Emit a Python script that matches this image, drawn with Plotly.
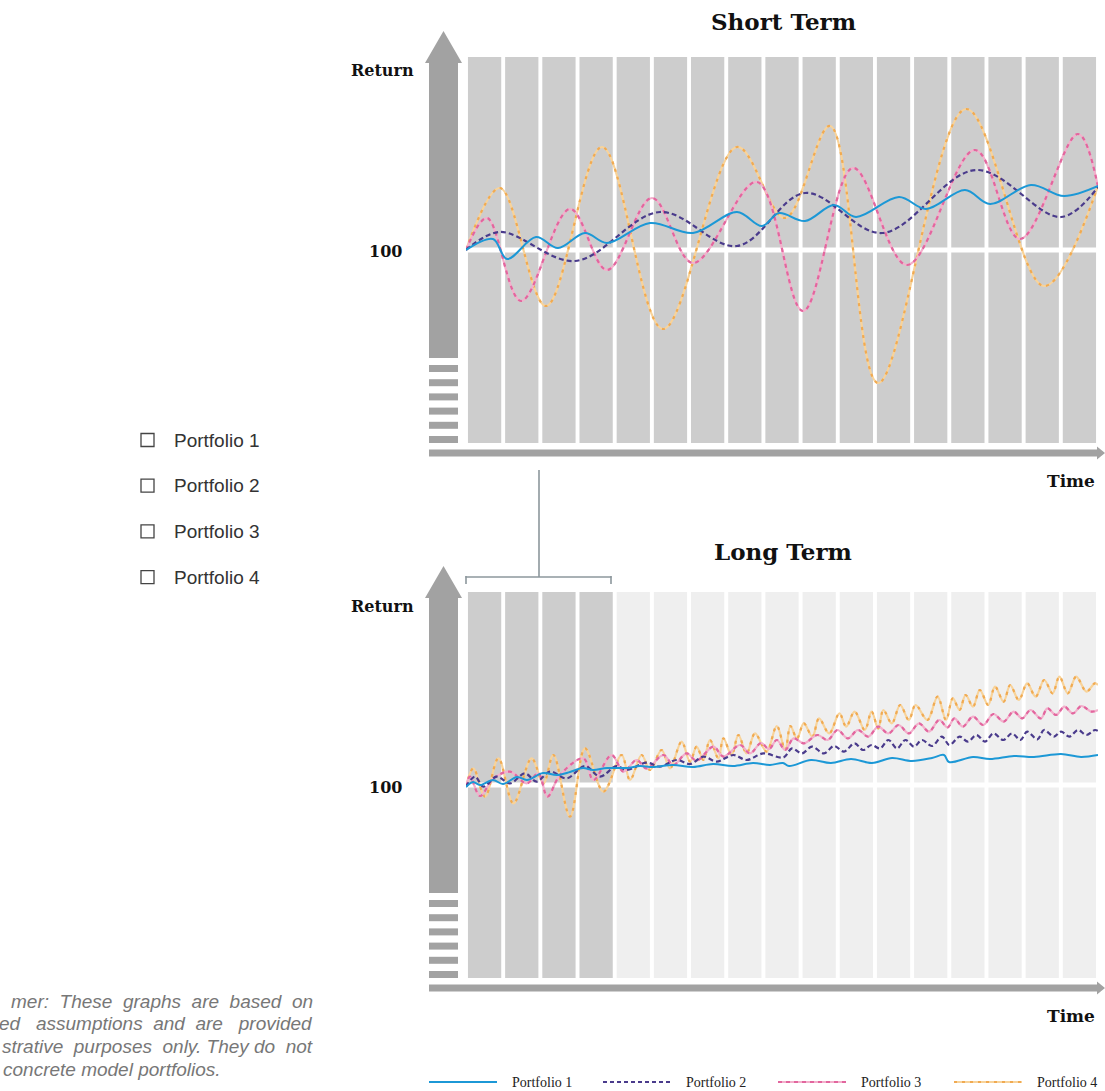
import plotly.graph_objects as go

W, H = 1105, 1091

# ---------------- data ----------------
TIME_MAX = 316
N_COLUMNS = 17
BASE_LEVEL = 100
Y_MIN, Y_MAX = 3.5, 196.5
DARK_COLUMNS_LONG = 4

series_names = ["Portfolio 1", "Portfolio 2", "Portfolio 3", "Portfolio 4"]
checkbox_labels = ["Portfolio 1", "Portfolio 2", "Portfolio 3", "Portfolio 4"]
panel_titles = ["Short Term", "Long Term"]
y_label = "Return"
y_tick_label = "100"
x_label = "Time"
disclaimer_lines = [
    "mer: These graphs are based on",
    "ed assumptions and are provided",
    "strative purposes only. They do not",
    "concrete model portfolios.",
]

# Short term series
short_t1 = [0, 13.5, 20.5, 35, 46, 59.5, 70.5, 92, 113.5, 135.5, 148, 156.5, 169.5, 184, 195, 216.5, 230, 249.5, 262, 282.5, 299, 316]
short_p1 = [100, 105.5, 95.5, 106.5, 101, 108.5, 103.5, 113.5, 108.5, 119, 112, 118.5, 114.5, 122.5, 116.5, 126.5, 120.5, 130, 123, 132.5, 127, 132]

short_t2 = [0, 17, 54.5, 97, 135.5, 169.5, 208, 255, 297.5, 316]
short_p2 = [100, 109, 94.5, 119, 102, 128.5, 108.5, 140, 116.5, 131.5]

short_t3 = [0, 10.5, 27.5, 52, 70.5, 93, 113.5, 145.5, 168.5, 193.5, 220.5, 254.5, 277, 306, 316]
short_p3 = [100, 116, 74.5, 120.5, 90, 126, 93.5, 134, 69.5, 141, 92.5, 150, 105.5, 158, 131.5]

short_t4 = [0, 17, 40, 68, 98.5, 135.5, 159.5, 182, 206, 250, 289, 316]
short_p4 = [100, 131, 72, 151.5, 60.5, 151.5, 116, 162, 33.5, 170.5, 82, 132]

# Long term series
long_t1 = [0, 3.5, 7, 13.5, 18.5, 25.5, 30.5, 38.5, 45.5, 52, 58.5, 63.5, 70.5, 80.5, 87, 93.5, 103.5, 113.5, 123.5, 133.5,
           143.5, 152, 158.5, 161.5, 172.5, 182.5, 192.5, 203, 213, 223, 233, 239, 241.5, 253.5, 262, 274, 284, 297.5, 307.5, 316]
long_p1 = [99, 101.5, 100, 102.5, 100.5, 104, 102.5, 106, 105, 106.5, 108.5, 107.5, 108.5, 108.5, 109.5, 109, 110, 109, 110.5, 109.5,
           111, 110, 111, 109.5, 112.5, 111, 113, 111, 113.5, 112, 113.5, 115, 111.5, 114, 113, 114.5, 114, 115.5, 114, 115]

long_t2 = [0, 4.5, 8.7, 15.3, 22, 29.5, 35.3, 42, 50.3, 59.5, 67, 75.3, 80.3, 90.3, 97, 105.3, 112, 118.7, 125.3, 133.7,
           140.3, 148.7, 158.75, 163, 168, 173, 179, 184, 189, 194.3, 198.5, 202.75, 207, 211.2, 215.5, 219.7, 224, 228, 233, 238,
           241.7, 246.8, 251, 255.2, 259.5, 263.7, 268.7, 273, 277.2, 280.6, 285.7, 289, 294, 297.5, 301.7, 306, 310.2, 314.5, 316]
long_p2 = [99.2, 104.2, 99.2, 104.2, 100.8, 105.8, 101.7, 106.7, 103.3, 109.5, 104.2, 109.5, 107.5, 111.2, 109.2, 112.5, 110.5, 114.2, 111.7, 115,
           112.5, 115.8, 113.8, 118.3, 115.8, 119.2, 115.8, 119.5, 116.7, 120.8, 117.5, 120, 118.3, 122.5, 118.3, 122.5, 119.2, 122.5, 119.5, 124.2,
           120, 124.2, 121.7, 125, 121.7, 125.8, 122.5, 125.8, 122.5, 126.7, 122.8, 127.5, 124.2, 126.7, 124.2, 127.5, 125, 127.5, 127]

long_t3 = [0, 2, 7, 13.7, 22, 30.3, 36.2, 40.7, 47, 58.7, 63.7, 72.8, 78.7, 85.3, 90.3, 98.7, 103.7, 110.3, 115.3, 123.7,
           128.7, 137, 142, 147.5, 151.5, 155.4, 159.6, 163.8, 168.9, 175.7, 180.8, 185.8, 190.9, 196, 201.1, 206.1, 211.2, 216.3, 221.4, 226.5,
           231.5, 236.6, 240.8, 244.2, 248.4, 253.5, 258.6, 263.7, 268.8, 273.8, 278.1, 282.3, 287.4, 290.7, 295, 299.2, 303.4, 307.7, 312.7, 316]
long_p3 = [99.2, 104.2, 94.5, 103.3, 106.7, 100.8, 105.8, 94.2, 105, 113.3, 102.5, 115, 106.7, 112.5, 108.3, 115, 110, 115.8, 112.2, 119.2,
           114.2, 120, 115.8, 121, 118, 122.5, 117.5, 123.3, 120.8, 125, 122.5, 127.5, 123.3, 127.5, 124.2, 129.2, 125.8, 130, 125.8, 130.8,
           126.7, 132.5, 128.8, 133.3, 129.2, 134.2, 130, 135.5, 131.7, 136.7, 133.3, 137.5, 133.3, 138.3, 135, 139.2, 135.8, 139.5, 136.7, 137.5]

long_t4 = [0, 3.7, 9.5, 16.2, 23.7, 32.8, 38.7, 43.7, 52, 59.5, 68.7, 77.8, 82, 87.8, 92, 97.8, 102, 107.8, 112, 115.3,
           118.7, 122, 126.2, 128.7, 132.8, 136.2, 140.3, 144.5, 150.3, 155.4, 159.6, 162.2, 165.5, 168.9, 173.2, 176.5, 181.6, 186.7, 190.1, 194.3,
           199.4, 202.8, 206.1, 208.7, 212.9, 217.1, 221.4, 224.8, 230.7, 235.8, 240, 243.4, 246.8, 249.8, 253.5, 256.9, 261.1, 264.5, 268.8, 272.1,
           276.4, 280.6, 284.8, 289.1, 293.3, 296.7, 300.9, 305.1, 310.2, 314.4, 316]
long_p4 = [99.2, 108.3, 94.2, 113.3, 90.8, 113.3, 100.8, 115, 84.2, 118.3, 96.7, 115, 102.5, 115, 107.5, 117.5, 108.3, 121.7, 111.7, 119.2,
           112.5, 122.5, 113.3, 123.3, 115, 125, 115.8, 125.8, 116.7, 129.5, 117.5, 129.5, 123.3, 130.8, 124.2, 133.3, 125.8, 135.8, 129.2, 136.7,
           127.5, 136.7, 128.3, 137.5, 130.8, 140, 132.5, 140, 132.5, 144.2, 132.5, 143.3, 137.5, 145, 139.2, 147.5, 140, 149.2, 141.7, 150,
           142.5, 150.8, 144.2, 152.5, 145.8, 154.2, 145.8, 154.2, 146.7, 150.8, 150]

# ---------------- styles ----------------
COL_DARK = "#cdcdcd"
COL_LIGHT = "#efefef"
ARROW_GREY = "#a2a2a2"
BRACKET = "#8c979c"
BLUE = "#1c98d6"
PURPLE = "#4a3b8c"
PINK_BASE = "#f3b0cc"
PINK_DASH = "#e2669e"
ORANGE_BASE = "#f8d39a"
ORANGE_DASH = "#f0aa52"
SLAB = "DejaVu Serif"
NBSP = "\u00a0"
# extra justification spaces per word gap (visual only)
disclaimer_gaps = [[1, 1, 1, 1, 1], [2, 1, 1, 2], [1, 1, 0, 0, 1], []]


def pxx(x):
    return x / W


def pxy(y):
    return 1 - y / H


fig = go.Figure()

col_w = TIME_MAX / N_COLUMNS
col_centers = [(i + 0.5) * col_w for i in range(N_COLUMNS)]


def add_panel(axis_sfx, colors, data):
    xa = "x" + axis_sfx
    ya = "y" + axis_sfx
    fig.add_trace(go.Bar(x=col_centers, y=[Y_MAX - Y_MIN] * N_COLUMNS, base=Y_MIN,
                         width=col_w * 0.895, marker=dict(color=colors, line=dict(width=0)),
                         xaxis=xa, yaxis=ya, hoverinfo="skip", showlegend=False))
    fig.add_trace(go.Scatter(x=[0, TIME_MAX], y=[BASE_LEVEL, BASE_LEVEL], mode="lines",
                             line=dict(color="white", width=5), xaxis=xa, yaxis=ya,
                             hoverinfo="skip", showlegend=False))
    (t1, p1), (t2, p2), (t3, p3), (t4, p4) = data
    # Portfolio 4 (orange)
    fig.add_trace(go.Scatter(x=t4, y=p4, mode="lines", line=dict(color=ORANGE_BASE, width=2.2, shape="spline"),
                             xaxis=xa, yaxis=ya, hoverinfo="skip", showlegend=False))
    fig.add_trace(go.Scatter(x=t4, y=p4, mode="lines", name=series_names[3],
                             line=dict(color=ORANGE_DASH, width=2.2, shape="spline", dash="3px,5px"),
                             xaxis=xa, yaxis=ya, showlegend=False))
    # Portfolio 3 (pink)
    fig.add_trace(go.Scatter(x=t3, y=p3, mode="lines", line=dict(color=PINK_BASE, width=2.2, shape="spline"),
                             xaxis=xa, yaxis=ya, hoverinfo="skip", showlegend=False))
    fig.add_trace(go.Scatter(x=t3, y=p3, mode="lines", name=series_names[2],
                             line=dict(color=PINK_DASH, width=2.2, shape="spline", dash="4px,4px"),
                             xaxis=xa, yaxis=ya, showlegend=False))
    # Portfolio 2 (purple dashed)
    fig.add_trace(go.Scatter(x=t2, y=p2, mode="lines", name=series_names[1],
                             line=dict(color=PURPLE, width=2.2, shape="spline", dash="5px,3px"),
                             xaxis=xa, yaxis=ya, showlegend=False))
    # Portfolio 1 (blue)
    fig.add_trace(go.Scatter(x=t1, y=p1, mode="lines", name=series_names[0],
                             line=dict(color=BLUE, width=2, shape="spline"),
                             xaxis=xa, yaxis=ya, showlegend=False))


add_panel("", [COL_DARK] * N_COLUMNS,
          [(short_t1, short_p1), (short_t2, short_p2), (short_t3, short_p3), (short_t4, short_p4)])
add_panel("2", [COL_DARK if i < DARK_COLUMNS_LONG else COL_LIGHT for i in range(N_COLUMNS)],
          [(long_t1, long_p1), (long_t2, long_p2), (long_t3, long_p3), (long_t4, long_p4)])

shapes = []
annotations = []


def poly(points, color):
    path = "M " + " L ".join(f"{pxx(x):.5f},{pxy(y):.5f}" for x, y in points) + " Z"
    shapes.append(dict(type="path", xref="paper", yref="paper", path=path,
                       fillcolor=color, line=dict(width=0), layer="above"))


def rect(x0, y0, x1, y1, color, line=None):
    shapes.append(dict(type="rect", xref="paper", yref="paper",
                       x0=pxx(x0), x1=pxx(x1), y0=pxy(y1), y1=pxy(y0),
                       fillcolor=color, line=line or dict(width=0), layer="above"))


def seg(x0, y0, x1, y1, color, width, dash="solid"):
    shapes.append(dict(type="line", xref="paper", yref="paper",
                       x0=pxx(x0), x1=pxx(x1), y0=pxy(y0), y1=pxy(y1),
                       line=dict(color=color, width=width, dash=dash), layer="above"))


def text(x, y, s, size, color="#111", family=SLAB, xanchor="center", bold=False, italic=False):
    if bold:
        s = "<b>" + s + "</b>"
    if italic:
        s = "<i>" + s + "</i>"
    annotations.append(dict(x=pxx(x), y=pxy(y), xref="paper", yref="paper", text=s, showarrow=False,
                            xanchor=xanchor, yanchor="middle",
                            font=dict(family=family, size=size, color=color)))


def panel_decor(dy, title):
    # vertical arrow
    poly([(443.5, 31 + dy), (462, 63 + dy), (458, 63 + dy), (458, 358 + dy),
          (429, 358 + dy), (429, 63 + dy), (425, 63 + dy)], ARROW_GREY)
    for k in range(6):
        y0 = 365 + dy + k * 14.2
        rect(429, y0, 458, y0 + 7, ARROW_GREY)
    # horizontal arrow
    poly([(429, 449.5 + dy), (1097, 449.5 + dy), (1097, 446.5 + dy), (1105, 453 + dy),
          (1097, 459.5 + dy), (1097, 456.5 + dy), (429, 456.5 + dy)], ARROW_GREY)
    text(783, 22 + dy * 0.99, title, 23, bold=True)
    text(382, 71 + dy, y_label, 16, bold=True)
    text(385, 252 + dy, y_tick_label, 16, bold=True)
    text(1097, 481 + dy, x_label, 17, bold=True, xanchor="right")


panel_decor(0, panel_titles[0])
panel_decor(535, panel_titles[1])

# bracket connecting the two panels
seg(539, 470, 539, 577, BRACKET, 1.6)
seg(465.5, 577, 611.5, 577, BRACKET, 1.6)
seg(466, 576, 466, 584, BRACKET, 1.6)
seg(611, 576, 611, 584, BRACKET, 1.6)

# checkbox list
for k, lab in enumerate(checkbox_labels):
    yc = 440 + k * 45.7
    rect(141, yc - 6.5, 154, yc + 6.5, "rgba(0,0,0,0)", line=dict(color="#444", width=1.3))
    text(172, yc, lab, 19, color="#333", family="Liberation Sans", xanchor="left")

# disclaimer (justified look: extra spaces between words)
for k, line in enumerate(disclaimer_lines):
    yc = 1001 + k * 22.7
    words = line.split(" ")
    gaps = disclaimer_gaps[k]
    out = words[0]
    for i, w in enumerate(words[1:]):
        extra = gaps[i] if i < len(gaps) else 0
        out += " " + NBSP * extra + w
    if k < len(disclaimer_lines) - 1:
        text(315, yc, out, 19, color="#777", family="Liberation Sans", xanchor="right", italic=True)
    else:
        text(1, yc, out, 19, color="#777", family="Liberation Sans", xanchor="left", italic=True)

# bottom legend
leg_y = 1082
leg_x = [429, 603, 778, 954]
seg(leg_x[0], leg_y, leg_x[0] + 68, leg_y, BLUE, 2)
seg(leg_x[1], leg_y, leg_x[1] + 68, leg_y, PURPLE, 2, dash="4px,3px")
seg(leg_x[2], leg_y, leg_x[2] + 68, leg_y, PINK_BASE, 2)
seg(leg_x[2], leg_y, leg_x[2] + 68, leg_y, PINK_DASH, 2, dash="4px,4px")
seg(leg_x[3], leg_y, leg_x[3] + 68, leg_y, ORANGE_BASE, 2)
seg(leg_x[3], leg_y, leg_x[3] + 68, leg_y, ORANGE_DASH, 2, dash="3px,5px")
for k, name in enumerate(series_names):
    text(leg_x[k] + 81, leg_y, name, 14, color="#222", family="Liberation Serif", xanchor="left")

axis_common = dict(visible=False, showgrid=False, zeroline=False, fixedrange=True)
fig.update_layout(
    width=W, height=H, autosize=False,
    margin=dict(l=0, r=0, t=0, b=0),
    paper_bgcolor="white", plot_bgcolor="white",
    showlegend=False, barmode="overlay",
    xaxis=dict(domain=[466 / W, 1098 / W], range=[0, TIME_MAX], anchor="y", **axis_common),
    yaxis=dict(domain=[1 - 443 / H, 1 - 57 / H], range=[Y_MIN, Y_MAX], anchor="x", **axis_common),
    xaxis2=dict(domain=[466 / W, 1098 / W], range=[0, TIME_MAX], anchor="y2", **axis_common),
    yaxis2=dict(domain=[1 - 978 / H, 1 - 592 / H], range=[Y_MIN, Y_MAX], anchor="x2", **axis_common),
    shapes=shapes,
    annotations=annotations,
)

fig.write_html("out.html", config={"displayModeBar": False},
               post_script="document.body.style.margin='0';document.body.style.overflow='hidden';")
